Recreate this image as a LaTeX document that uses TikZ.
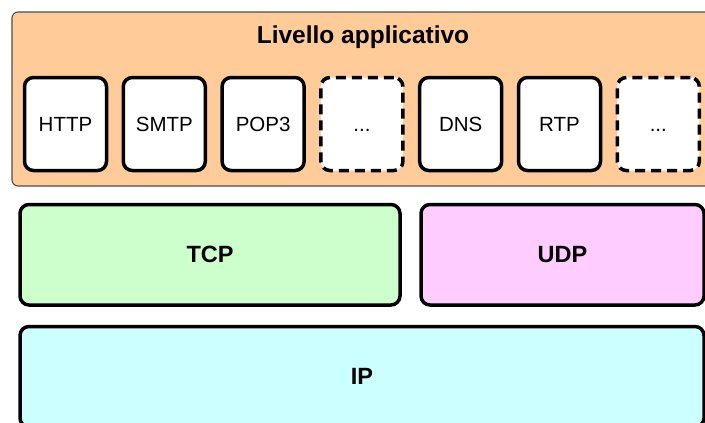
\documentclass[tikz,border=0pt]{standalone}
\usepackage{fontspec}
\setmainfont{Liberation Sans}
\definecolor{appfill}{HTML}{FFCC99}
\definecolor{tcpfill}{HTML}{CCFFCC}
\definecolor{udpfill}{HTML}{FFCCFF}
\definecolor{ipfill}{HTML}{CCFFFF}
\definecolor{appline}{HTML}{4D4D4D}
\begin{document}
\begin{tikzpicture}[x=1pt,y=-1pt,
  appbox/.style={draw=appline, line width=1.1pt, fill=appfill, rounded corners=6pt,
    minimum width=702pt, minimum height=174pt, inner sep=0pt},
  protobox/.style={draw=black, line width=3.5pt, fill=white, rounded corners=9pt,
    minimum width=82pt, minimum height=93pt, inner sep=0pt,
    text height=15pt, text depth=0pt, font=\fontsize{20.5}{24}\selectfont},
  moreproto/.style={protobox, dash pattern=on 10pt off 6pt},
  layerbox/.style={draw=black, line width=3.5pt, rounded corners=9pt, inner sep=0pt,
    minimum height=100.5pt, font=\bfseries\fontsize{23.5}{28}\selectfont},
  title/.style={font=\bfseries\fontsize{24.5}{29}\selectfont, inner sep=0pt}]
  \useasboundingbox (0,0) rectangle (705,423);

  % application layer with its protocols
  \node[appbox] (app) at (363,99) {};
  \node[title] (apptitle) at (363,37) {Livello applicativo};
  \node[protobox] (http) at (65.5,124) {HTTP};
  \node[protobox] (smtp) at (164.3,124) {SMTP};
  \node[protobox] (pop) at (263.1,124) {POP3};
  \node[moreproto] (more1) at (361.9,124) {...};
  \node[protobox] (dns) at (460.7,124) {DNS};
  \node[protobox] (rtp) at (559.5,124) {RTP};
  \node[moreproto] (more2) at (658.3,124) {...};

  % transport layer
  \node[layerbox, fill=tcpfill, minimum width=380pt] (tcp) at (210,254.75) {TCP};
  \node[layerbox, fill=udpfill, minimum width=283pt] (udp) at (562.5,254.75) {UDP};

  % network layer
  \node[layerbox, fill=ipfill, minimum width=684pt] (ip) at (362,376.75) {IP};
\end{tikzpicture}
\end{document}
